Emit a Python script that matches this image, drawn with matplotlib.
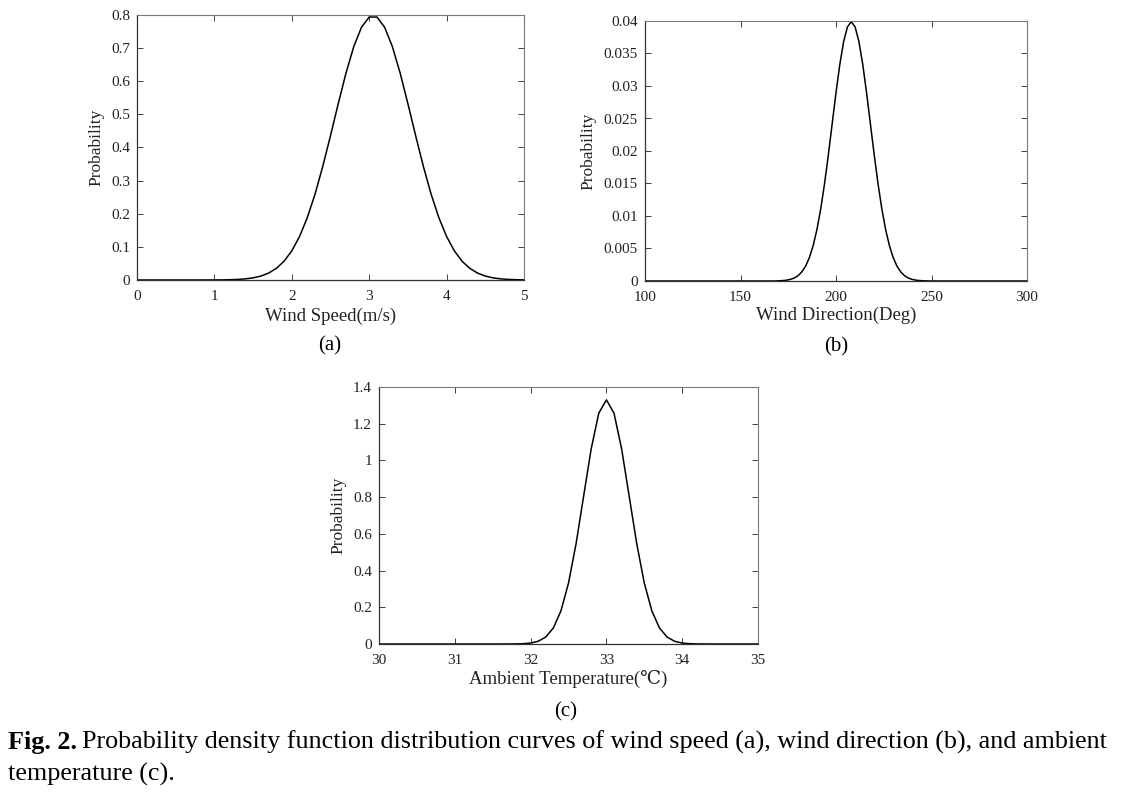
import numpy as np
import matplotlib
matplotlib.use("Agg")
import matplotlib.pyplot as plt

plt.rcParams['font.family'] = ['Liberation Serif', 'DejaVu Serif', 'DejaVu Sans']

# ---------------- data ----------------
# (a) wind speed, sampled every 0.1 m/s from 0 to 5
speed_x = [round(0.1 * i, 1) for i in range(51)]
speed_p = [0.0, 0.0, 0.0, 0.0, 0.0, 0.0, 0.0, 0.0, 0.0, 0.0001,
           0.0002, 0.0004, 0.0009, 0.0017, 0.0034, 0.0065, 0.0119, 0.0208, 0.0351, 0.0566,
           0.0880, 0.1313, 0.1881, 0.2591, 0.3428, 0.4357, 0.5322, 0.6245, 0.7042, 0.7628,
           0.7939, 0.7939, 0.7628, 0.7042, 0.6245, 0.5322, 0.4357, 0.3428, 0.2591, 0.1881,
           0.1313, 0.0880, 0.0566, 0.0351, 0.0208, 0.0119, 0.0065, 0.0034, 0.0017, 0.0009,
           0.0004]

# (b) wind direction (deg)
dir_x = [100, 168] + list(range(170, 248, 2)) + [250, 300]
dir_p = [0.0, 0.0,
         0.00003, 0.00006, 0.00012, 0.00024, 0.00044, 0.00079, 0.00136, 0.00224, 0.00355, 0.00540,
         0.00789, 0.01109, 0.01497, 0.01942, 0.02420, 0.02897, 0.03332, 0.03683, 0.03910,
         0.03989,
         0.03910, 0.03683, 0.03332, 0.02897, 0.02420, 0.01942, 0.01497, 0.01109, 0.00789,
         0.00540, 0.00355, 0.00224, 0.00136, 0.00079, 0.00044, 0.00024, 0.00012, 0.00006, 0.00003,
         0.0, 0.0]

# (c) ambient temperature, sampled every 0.1 degC from 30 to 35
temp_x = [round(30 + 0.1 * i, 1) for i in range(51)]
temp_p = [0.0] * 17 + [0.0001, 0.0004, 0.0016, 0.0051, 0.0148, 0.0380, 0.0874, 0.1800, 0.3316,
                       0.5467, 0.8066, 1.0648, 1.2580, 1.3298, 1.2580, 1.0648, 0.8066, 0.5467,
                       0.3316, 0.1800, 0.0874, 0.0380, 0.0148, 0.0051, 0.0016, 0.0004, 0.0001] + [0.0] * 7

speed_ticks = [0, 1, 2, 3, 4, 5]
speed_yticks = [0, 0.1, 0.2, 0.3, 0.4, 0.5, 0.6, 0.7, 0.8]
speed_ylabels = ['0', '0.1', '0.2', '0.3', '0.4', '0.5', '0.6', '0.7', '0.8']
dir_ticks = [100, 150, 200, 250, 300]
dir_yticks = [0, 0.005, 0.01, 0.015, 0.02, 0.025, 0.03, 0.035, 0.04]
dir_ylabels = ['0', '0.005', '0.01', '0.015', '0.02', '0.025', '0.03', '0.035', '0.04']
temp_ticks = [30, 31, 32, 33, 34, 35]
temp_yticks = [0, 0.2, 0.4, 0.6, 0.8, 1.0, 1.2, 1.4]
temp_ylabels = ['0', '0.2', '0.4', '0.6', '0.8', '1', '1.2', '1.4']

W, H = 1131, 795
fig = plt.figure(figsize=(W / 100, H / 100), dpi=100)


def px_axes(l, t, r, b):
    return fig.add_axes([l / W, 1 - b / H, (r - l) / W, (b - t) / H])


def style(ax, xt, yt, ylabels, xlim, ylim, xlabel, xlab_y, ylab_x):
    ax.set_xlim(*xlim)
    ax.set_ylim(*ylim)
    ax.set_xticks(xt)
    ax.set_xticklabels([str(v) for v in xt])
    ax.set_yticks(yt)
    ax.set_yticklabels(ylabels)
    ax.tick_params(direction='in', length=4, width=0.6, top=True, right=True,
                   labelsize=11, colors='#222222')
    ax.tick_params(axis='y', pad=5)
    ax.tick_params(axis='x', pad=7)
    for s in ['left', 'bottom']:
        ax.spines[s].set_color('#333333')
        ax.spines[s].set_linewidth(0.9)
    for s in ['top', 'right']:
        ax.spines[s].set_color('#777777')
        ax.spines[s].set_linewidth(0.8)
    ax.set_xlabel(xlabel, fontsize=13.5, color='#222222', va='center')
    ax.xaxis.set_label_coords(0.5, xlab_y)
    ax.set_ylabel('Probability', fontsize=12.5, color='#222222', va='center')
    ax.yaxis.set_label_coords(ylab_x, 0.5)


ax1 = px_axes(137, 15, 524, 280)
ax1.plot(speed_x, speed_p, color='black', lw=1.1)
style(ax1, speed_ticks, speed_yticks, speed_ylabels, (0, 5), (0, 0.8), 'Wind Speed(m/s)',
      -0.136, -0.105)

ax2 = px_axes(645, 21, 1027, 281)
ax2.plot(dir_x, dir_p, color='black', lw=1.1)
style(ax2, dir_ticks, dir_yticks, dir_ylabels, (100, 300), (0, 0.04), 'Wind Direction(Deg)',
      -0.131, -0.148)

ax3 = px_axes(379, 387, 758, 644)
ax3.plot(temp_x, temp_p, color='black', lw=1.1)
style(ax3, temp_ticks, temp_yticks, temp_ylabels, (30, 35), (0, 1.4), 'Ambient Temperature(\u2103)',
      -0.136, -0.108)

fig.text(330 / W, 1 - 346 / H, '(a)', fontsize=15, ha='center', va='center')
fig.text(836 / W, 1 - 347 / H, '(b)', fontsize=15, ha='center', va='center')
fig.text(566 / W, 1 - 712 / H, '(c)', fontsize=15, ha='center', va='center')

# caption
renderer = fig.canvas.get_renderer()
t1 = fig.text(8 / W, 1 - 749 / H, 'Fig. 2.', fontsize=18.8, fontweight='bold', ha='left', va='baseline')
bb = t1.get_window_extent(renderer=renderer)
fig.text((bb.x1 + 5) / W, 1 - 749 / H,
         'Probability density function distribution curves of wind speed (a), wind direction (b), and ambient',
         fontsize=18.8, ha='left', va='baseline')
fig.text(8 / W, 1 - 781 / H, 'temperature (c).', fontsize=18.8, ha='left', va='baseline')

fig.savefig('out.png', dpi=100)
